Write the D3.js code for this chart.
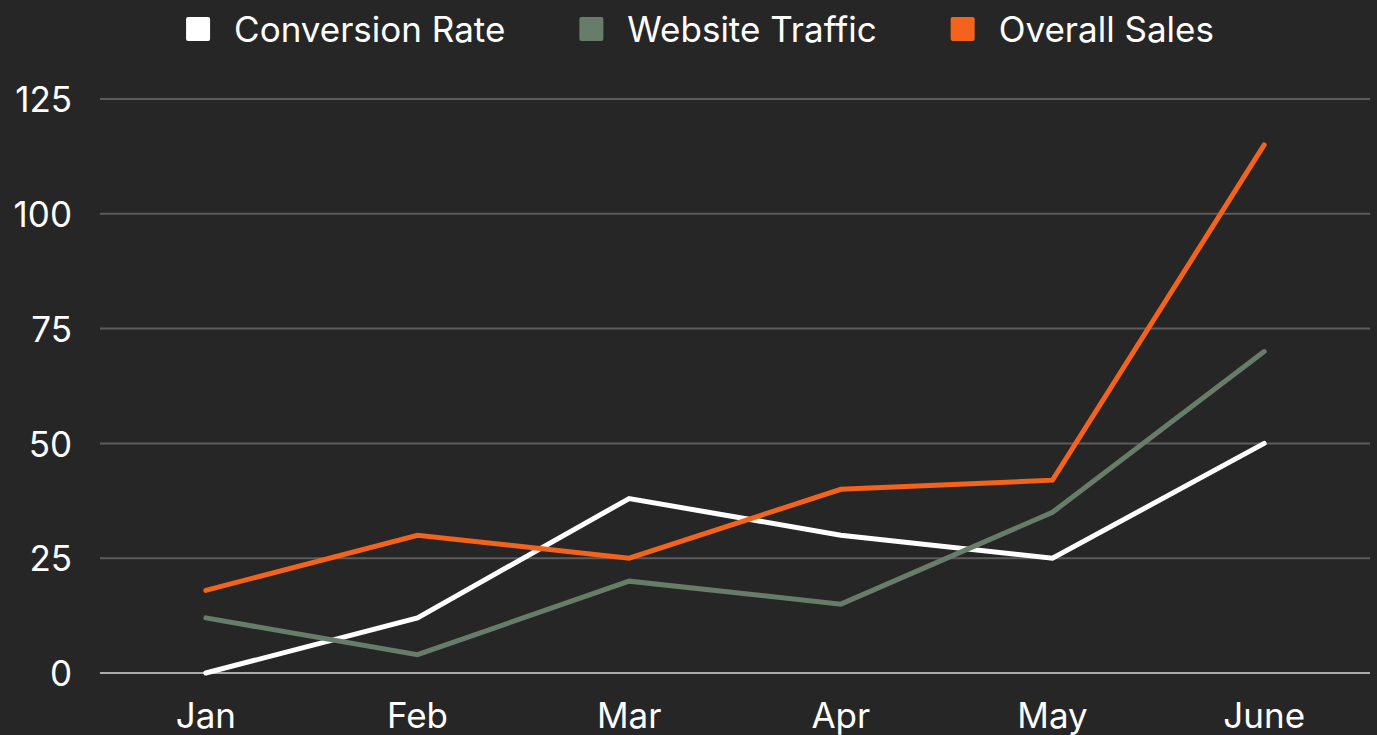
<!DOCTYPE html>
<meta charset="utf-8" />
<style>
    body {
        margin: 0;
        background: #262626;
    }

    text {
        font-family: Inter, "Noto Sans", sans-serif;
        fill: #ffffff;
    }

    .grid line {
        stroke: #5c5c5c;
        stroke-width: 2px;
    }
</style>
<svg width="1377" height="735"></svg>
<script src="https://d3js.org/d3.v7.min.js"></script>
<script>
    // data
    var months = ["Jan", "Feb", "Mar", "Apr", "May", "June"];
    var conversionRate = [0, 12, 38, 30, 25, 50];
    var websiteTraffic = [12, 4, 20, 15, 35, 70];
    var overallSales = [18, 30, 25, 40, 42, 115];
    var yTicks = [0, 25, 50, 75, 100, 125];

    var series = [
        { name: "Conversion Rate", values: conversionRate, color: "#ffffff" },
        { name: "Website Traffic", values: websiteTraffic, color: "#677d69" },
        { name: "Overall Sales", values: overallSales, color: "#f4631b" }
    ];

    var svg = d3.select("svg");
    svg.append("rect").attr("width", 1377).attr("height", 735).attr("fill", "#262626");

    var plotLeft = 100, plotRight = 1370, plotTop = 99, plotBottom = 673;

    var x = d3.scaleBand().domain(months).range([plotLeft, plotRight]);
    var y = d3.scaleLinear().domain([0, 125]).range([plotBottom, plotTop]);

    // grid lines
    var grid = svg.append("g").attr("class", "grid");
    grid.selectAll("line")
        .data(yTicks)
        .enter()
        .append("line")
        .attr("x1", plotLeft)
        .attr("x2", plotRight)
        .attr("y1", function (d) { return y(d); })
        .attr("y2", function (d) { return y(d); })
        .style("stroke", function (d) { return d === 0 ? "#ababab" : null; });

    // y axis labels
    var yAxis = svg.append("g")
        .attr("transform", "translate(" + (plotLeft - 28) + ",0)")
        .call(d3.axisLeft(y).tickValues(yTicks).tickSize(0).tickPadding(0));
    yAxis.select(".domain").remove();
    yAxis.selectAll("text")
        .attr("fill", "#ffffff")
        .style("font-size", "35px")
        .attr("dy", "0.36em");

    // x axis labels
    var xAxis = svg.append("g")
        .attr("transform", "translate(0," + plotBottom + ")")
        .call(d3.axisBottom(x).tickSize(0).tickPadding(0));
    xAxis.select(".domain").remove();
    xAxis.selectAll("text")
        .attr("fill", "#ffffff")
        .style("font-size", "35px")
        .attr("y", 55)
        .attr("dy", 0);

    // lines
    var line = d3.line()
        .x(function (d, i) { return x(months[i]) + x.bandwidth() / 2; })
        .y(function (d) { return y(d); });

    svg.append("g")
        .selectAll("path")
        .data(series)
        .enter()
        .append("path")
        .attr("d", function (d) { return line(d.values); })
        .attr("fill", "none")
        .attr("stroke", function (d) { return d.color; })
        .attr("stroke-width", 5)
        .attr("stroke-linecap", "round")
        .attr("stroke-linejoin", "miter");

    // legend
    var legend = svg.append("g");
    var items = legend.selectAll("g")
        .data(series)
        .enter()
        .append("g");
    items.append("rect")
        .attr("width", 24)
        .attr("height", 24)
        .attr("rx", 2)
        .attr("y", 17)
        .attr("fill", function (d) { return d.color; });
    items.append("text")
        .attr("x", 48)
        .attr("y", 42)
        .style("font-size", "35px")
        .text(function (d) { return d.name; });

    var pos = 0, offsets = [];
    items.each(function () {
        offsets.push(pos);
        pos += this.getBBox().width + 74;
    });
    var total = pos - 74;
    var start = 700 - total / 2;
    items.attr("transform", function (d, i) { return "translate(" + (start + offsets[i]) + ",0)"; });
</script>
